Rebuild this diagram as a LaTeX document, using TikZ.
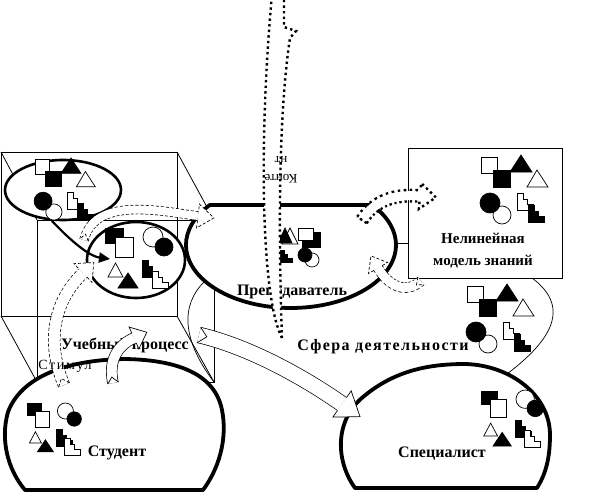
\documentclass[tikz,border=0pt]{standalone}
\usepackage{fontspec}
\setmainfont{Liberation Serif}
\usetikzlibrary{shapes.geometric, arrows.meta}

\tikzset{
  stp/.pic={
    \filldraw[pic actions] (0,0) -- (6,0) -- (6,6) -- (10,6) -- (10,11) -- (16,11) -- (16,17) -- (0,17) -- cycle;
  }
}

% group of figures, squares left, circles below
\newcommand{\figsA}[2]{%
  \begin{scope}[shift={#1}, scale=#2, line width=0.7pt]
    \filldraw[fill=white] (0,2) rectangle (16,18);
    \filldraw[fill=black] (12,15) rectangle (29,32);
    \filldraw[fill=black] (29,17) -- (40,0) -- (51,17) -- cycle;
    \filldraw[fill=white] (46,32) -- (56,15) -- (67,32) -- cycle;
    \filldraw[fill=white] (21,60) circle[radius=9];
    \filldraw[fill=black] (9,48) circle[radius=10];
    \pic[fill=white] at (36,38) {stp};
    \pic[fill=black] at (47,50) {stp};
  \end{scope}}

% group of figures, circles right, triangles below
\newcommand{\figsB}[2]{%
  \begin{scope}[shift={#1}, scale=#2, line width=0.7pt]
    \filldraw[fill=black] (0,1) rectangle (18,16);
    \filldraw[fill=white] (10,10) rectangle (28,30);
    \filldraw[fill=white] (48,10) circle[radius=10];
    \filldraw[fill=black] (59,20) circle[radius=9];
    \filldraw[fill=white] (3,50) -- (10.5,36) -- (18,50) -- cycle;
    \filldraw[fill=black] (13,61) -- (23,46) -- (33,61) -- cycle;
    \pic[fill=black] at (37,33) {stp};
    \pic[fill=white] at (47,44) {stp};
  \end{scope}}

% head and tail of a hollow arrow
\newcommand{\bhead}[6]{%
  \fill[white, shift={(#2)}, rotate=#3] (0,{-#5/2}) -- (#4,0) -- (0,{#5/2}) -- cycle;
  \draw[#1, shift={(#2)}, rotate=#3] (0,{#6/2}) -- (0,{#5/2}) -- (#4,0) -- (0,{-#5/2}) -- (0,{-#6/2});}
\newcommand{\btail}[5]{%
  \draw[#1, shift={(#2)}, rotate=#3] (0,{#4/2}) -- (#5,0) -- (0,{-#4/2});}

\begin{document}
\begin{tikzpicture}[
  x=1pt, y=-1pt,
  cube line/.style={line width=0.8pt},
  thin link/.style={line width=0.7pt},
  knot/.style={draw, ellipse, fill=white, line width=2.6pt, inner sep=0pt},
  dome/.style={draw, fill=white, line width=3.8pt, line join=round},
  lbl/.style={font=\fontsize{16}{22}\selectfont\bfseries, inner sep=0pt, align=center},
  note/.style={font=\fontsize{13}{18}\selectfont, inner sep=0pt, align=center},
  push/.style={line width=2.2pt, -{Triangle[length=11pt, width=10pt]}},
  hband/.style={line width=#1, draw=white, preaction={draw=black, line width=#1+1.4pt}},
  hband dash/.style={line width=#1, draw=white, preaction={draw=black, line width=#1+1.4pt, dash pattern=on 3pt off 2pt}},
  hband dot/.style={line width=#1, draw=white, preaction={draw=black, line width=#1+4.8pt, dash pattern=on 2.4pt off 3.2pt}},
  hline/.style={line width=0.7pt},
  hline dash/.style={line width=0.7pt, dash pattern=on 3pt off 2pt},
  hline dot/.style={line width=2.4pt, dash pattern=on 2.4pt off 3.2pt}
]
\useasboundingbox (0,0) rectangle (592,495);
\clip (0,0) rectangle (592,495);

% cube
\draw[cube line] (1,152) rectangle (177,316);
\draw[cube line] (37,220) rectangle (214,382);
\draw[cube line] (1,152) -- (37,220) (177,152) -- (214,220) (1,316) -- (37,382) (177,316) -- (214,382);

% thin links
\coordinate (c1a) at (205,281);
\coordinate (c1b) at (214,382);
\coordinate (c2a) at (532,278);
\coordinate (c2b) at (507,374);
\draw[thin link] (c1a) .. controls (180,305) and (182,340) .. (c1b);
\draw[thin link] (c2a) .. controls (575,310) and (545,345) .. (c2b);

% knowledge sets
\node[knot, minimum width=116pt, minimum height=60pt] (kn1) at (63,190) {};
\node[knot, minimum width=98pt, minimum height=76pt] (kn2) at (136,260) {};

% teacher
\draw[dome] (372.1,205) arc[start angle=-39.4, end angle=219.4, x radius=105, y radius=63] -- cycle;
\coordinate (prepE) at (396,243);

% model
\node[draw, fill=white, line width=0.9pt, minimum width=154pt, minimum height=130pt, inner sep=0pt] (model) at (485,213) {};

% student and specialist
\draw[dome] (25,490) .. controls (8,470) and (0,440) .. (8,412) .. controls (20,380) and (60,360) .. (125,359) .. controls (180,360) and (215,375) .. (222,410) .. controls (228,440) and (218,470) .. (203,490) -- cycle;
\draw[dome] (355,488) .. controls (335,460) and (335,420) .. (363,397) .. controls (395,370) and (430,364) .. (465,364) .. controls (510,365) and (550,395) .. (550,435) .. controls (550,460) and (545,475) .. (537,488) -- cycle;

% figures
\figsA{(35,158)}{0.9}
\figsA{(481,155)}{1}
\figsA{(467,284)}{1}
\figsB{(105,227)}{1}
\figsB{(27,403)}{0.8}
\figsB{(481,390)}{0.92}
\begin{scope}[line width=0.7pt]
  \filldraw[fill=white] (282,244) -- (290,228) -- (298,244) -- cycle;
  \filldraw[fill=black] (278,243) -- (285,228) -- (292,243) -- cycle;
  \filldraw[fill=black] (302,232) rectangle (320,247);
  \filldraw[fill=white] (298,228) rectangle (313,240);
  \pic[fill=black, scale=0.75] at (280,250) {stp};
  \filldraw[fill=white] (312,260) circle[radius=7];
  \filldraw[fill=black] (305,255) circle[radius=7];
\end{scope}

\coordinate (kn2in) at (110,259);
\draw[push] (kn1.250) .. controls (68,238) and (88,256) .. (kn2in);

% labels
\node[lbl] (prep) at (292,292) {Преподаватель};
\node[lbl] (stud) at (117,453) {Студент};
\node[lbl] (spec) at (442,454) {Специалист};
\node[lbl] (uchp) at (125,345) {Учебный процесс};
\node[lbl, font=\fontsize{16}{22}\selectfont\bfseries\addfontfeatures{LetterSpace=9}] (sfera) at (383,347) {Сфера деятельности};
\node[lbl, font=\fontsize{15}{22}\selectfont\bfseries] (mtext) at (483,251) {Нелинейная\\модель знаний};

\draw[thin link] (prepE) -- (prepE -| model.west);

% content
\coordinate (a5t) at (282,338);
\draw[hline dot, fill=white] (a5t) .. controls (262,300) and (258,150) .. (272,-6) -- (284,-6) -- (284,27) -- (296,31) -- (290,38) .. controls (276,130) and (280,280) .. (a5t);
\node[note, rotate=180] (kont) at (281,170) {Конте\\нт};

% hollow arrows
\coordinate (a1t) at (84,240);
\coordinate (a1h) at (198,216);
\draw[hband dash=8pt] (a1t) .. controls (95,195) and (165,212) .. (a1h);
\bhead{hline dash}{a1h}{-7}{16}{24}{8.7}
\btail{hline dash}{a1t}{76}{8.7}{6}

\coordinate (a2t) at (64,385);
\coordinate (a2h) at (83,273);
\draw[hband dash=11pt] (a2t) .. controls (45,340) and (55,300) .. (a2h);
\bhead{hline dash}{a2h}{44}{15}{26}{11.7}
\btail{hline dash}{a2t}{113}{11.7}{7}

\node[note, font=\fontsize{14}{18}\selectfont\addfontfeatures{LetterSpace=12}] (stim) at (65,366) {Стимул};

\coordinate (a3t) at (113,383);
\coordinate (a3h) at (134,338);
\draw[hband=10pt] (a3t) .. controls (108,360) and (118,345) .. (a3h);
\bhead{hline}{a3h}{24}{14}{24}{10.7}
\btail{hline}{a3t}{102}{10.7}{6}

\coordinate (a4t) at (199,335);
\coordinate (a4h) at (342,404);
\draw[hband=15pt] (a4t) .. controls (250,347) and (305,378) .. (a4h);
\bhead{hline}{a4h}{-35}{22}{32}{15.7}
\btail{hline}{a4t}{-13}{15.7}{8}

\coordinate (a6t) at (362,220);
\coordinate (a6h) at (420,196);
\draw[hband dot=9pt] (a6t) .. controls (375,200) and (395,194) .. (a6h);
\bhead{hline dot}{a6h}{-5}{16}{26}{11.4}
\btail{hline dot}{a6t}{57}{11.4}{0}

\coordinate (a7t) at (421,281);
\coordinate (a7h) at (378,268);
\draw[hband dash=9pt] (a7t) .. controls (405,295) and (388,285) .. (a7h);
\bhead{hline dash}{a7h}{120}{14}{22}{9.7}
\btail{hline dash}{a7t}{221}{9.7}{6}

\end{tikzpicture}
\end{document}
